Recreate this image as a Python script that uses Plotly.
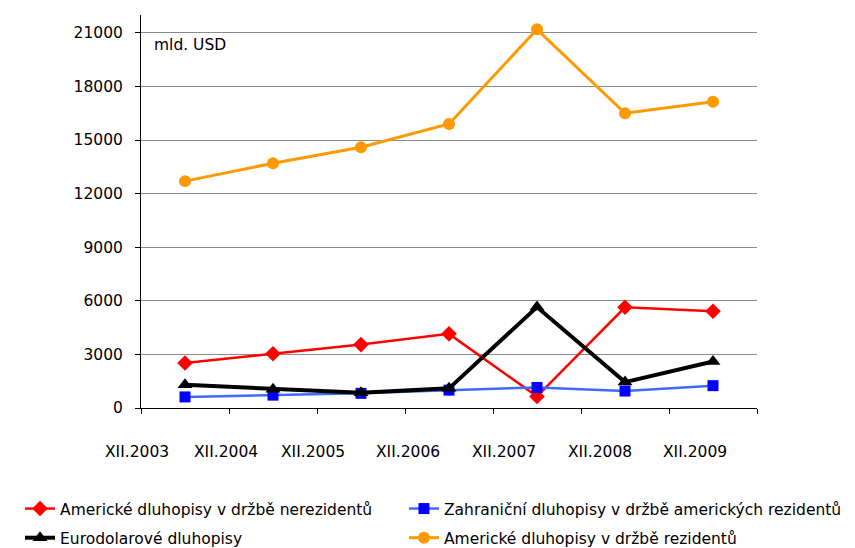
import plotly.graph_objects as go

categories = ["XII.2003", "XII.2004", "XII.2005", "XII.2006", "XII.2007", "XII.2008", "XII.2009"]
x_idx = list(range(len(categories)))

us_nonres = [2520, 3040, 3550, 4150, 650, 5640, 5420]
foreign_us_res = [620, 720, 820, 1000, 1150, 950, 1250]
eurodollar = [1300, 1050, 850, 1100, 5650, 1450, 2600]
us_res = [12700, 13700, 14600, 15900, 21200, 16500, 17150]

names = [
    "Americké dluhopisy v držbě nerezidentů",
    "Zahraniční dluhopisy v držbě amerických rezidentů",
    "Eurodolarové dluhopisy",
    "Americké dluhopisy v držbě rezidentů",
]

y_ticks = [0, 3000, 6000, 9000, 12000, 15000, 18000, 21000]
y_ticktext = [str(v) for v in y_ticks]
# positions (in category units) where the category labels sit, offset from the points as in the original
label_pos = [-0.54, 0.47, 1.46, 2.53, 3.63, 4.72, 5.79]

FONT = "Verdana, DejaVu Sans, sans-serif"
FS = 15.5
X_RANGE = [-0.5, len(categories) - 0.5]

fig = go.Figure()
fig.add_trace(go.Scatter(x=x_idx, y=us_nonres, name=names[0], mode="lines+markers",
                         legend="legend", legendgroup="a",
                         line=dict(color="#FF0000", width=2.5),
                         marker=dict(symbol="diamond", size=12, color="#FF0000")))
fig.add_trace(go.Scatter(x=x_idx, y=foreign_us_res, name=names[1], mode="lines+markers",
                         legend="legend2", legendgroup="b",
                         line=dict(color="#3D6BFF", width=2.5),
                         marker=dict(symbol="square", size=11, color="#0000FF")))
fig.add_trace(go.Scatter(x=x_idx, y=eurodollar, name=names[2], mode="lines+markers",
                         legend="legend", legendgroup="c",
                         line=dict(color="#000000", width=4),
                         marker=dict(symbol="triangle-up", size=13, color="#000000")))
fig.add_trace(go.Scatter(x=x_idx, y=us_res, name=names[3], mode="lines+markers",
                         legend="legend2", legendgroup="d",
                         line=dict(color="#FF9900", width=3),
                         marker=dict(symbol="circle", size=12, color="#FF9900")))

span = X_RANGE[1] - X_RANGE[0]
annotations = [dict(text="mld. USD", xref="paper", yref="paper",
                    x=0.018, y=0.924, xanchor="left", yanchor="middle",
                    showarrow=False, font=dict(family=FONT, size=FS))]
for pos, lab in zip(label_pos, categories):
    annotations.append(dict(text=lab, x=(pos - X_RANGE[0]) / span, xref="paper",
                            y=0, yref="paper", yshift=-44,
                            xanchor="center", yanchor="middle",
                            showarrow=False, font=dict(family=FONT, size=FS)))

legend_common = dict(orientation="v", xref="container", yref="paper",
                     xanchor="left", yanchor="bottom", y=-0.374,
                     font=dict(family=FONT, size=FS), tracegroupgap=6,
                     bgcolor="rgba(0,0,0,0)", traceorder="grouped")

fig.update_layout(
    width=847, height=540,
    margin=dict(l=133, r=98, t=7, b=140, autoexpand=False),
    paper_bgcolor="white", plot_bgcolor="white",
    font=dict(family=FONT, size=FS, color="#000000"),
    showlegend=True,
    xaxis=dict(range=X_RANGE, tickmode="array",
               tickvals=[i - 0.5 for i in range(len(categories) + 1)],
               showticklabels=False, ticks="outside", ticklen=5, tickcolor="#000000",
               showline=True, linecolor="#000000", linewidth=1,
               showgrid=False, zeroline=False, fixedrange=True),
    yaxis=dict(range=[0, 22000], tickmode="array", tickvals=y_ticks, ticktext=y_ticktext,
               ticks="outside", ticklen=5, tickcolor="#000000",
               showline=True, linecolor="#000000", linewidth=1,
               showgrid=True, gridcolor="#8C8C8C", gridwidth=1,
               zeroline=False, ticklabelstandoff=9,
               tickfont=dict(family=FONT, size=FS)),
    legend=dict(x=0.0142, **legend_common),
    legend2=dict(x=0.4675, **legend_common),
    annotations=annotations,
)

fig.write_html("out.html")
